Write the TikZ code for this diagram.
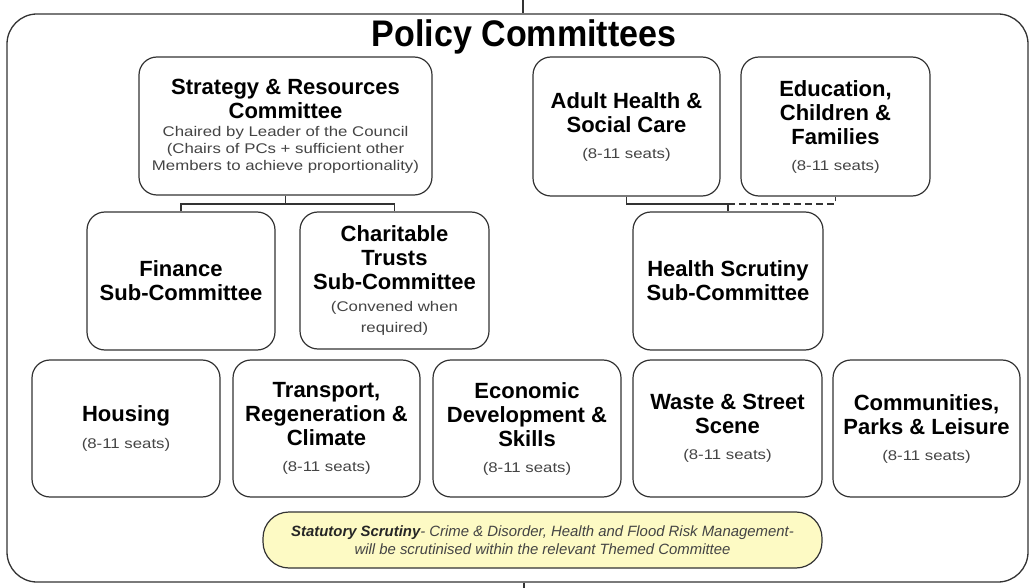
\documentclass[tikz,border=0pt]{standalone}
\usepackage{fontspec}
\setmainfont{Liberation Sans}
\newfontfamily\smallf[FakeStretch=1.2]{Liberation Sans}
\newfontfamily\titlef[FakeStretch=0.92]{Liberation Sans}
\definecolor{txtgray}{HTML}{444444}
\definecolor{linegray}{HTML}{333333}
\definecolor{paleyellow}{HTML}{FDFAC4}
\newcommand\bt{\fontsize{22}{24}\selectfont\bfseries\color{black}}
\newcommand\st{\smallf\fontsize{14}{16}\selectfont\color{txtgray}}
\tikzset{
  cbox/.style={draw=linegray, line width=1.2pt, rounded corners=18pt, align=center,
    inner sep=0pt, font=\fontsize{22}{24}\selectfont},
  wide/.style={minimum width=188pt, minimum height=138pt},
  conn/.style={draw=linegray, line width=1.1pt},
}
\begin{document}
\begin{tikzpicture}[x=1pt,y=-1pt]
\useasboundingbox (0,0) rectangle (1034,588);
\fill[white] (0,0) rectangle (1034,588);
% outer frame
\node[draw=linegray, line width=1.3pt, rounded corners=30pt, minimum width=1021pt,
  minimum height=568pt, inner sep=0pt] (outer) at (517.5,298) {};
\coordinate (topT) at (523,0);
\coordinate (botT) at (524,588);
\draw[conn] (topT) -- (topT |- outer.north);
\draw[conn] (botT |- outer.south) -- (botT);
% title
\node[anchor=base, inner sep=0pt, font=\titlef\fontsize{37}{40}\selectfont\bfseries] (title) at (524,47) {Policy Committees};
% top row
\node[cbox, minimum width=293pt, minimum height=138pt] (sr) at (285.5,126)
  {\bt Strategy \& Resources\\ \bt Committee\\[-6pt]
   \st Chaired by Leader of the Council\\[-7pt]
   \st (Chairs of PCs + sufficient other\\[-7pt]
   \st Members to achieve proportionality)};
\node[cbox, minimum width=187pt, minimum height=139pt] (ah) at (626.5,126.5)
  {\bt Adult Health \&\\ \bt Social Care\\[2pt] \st (8-11 seats)};
\node[cbox, minimum width=189pt, minimum height=139pt] (ed) at (835.5,126.5)
  {\bt Education,\\ \bt Children \&\\ \bt Families\\[2pt] \st (8-11 seats)};
% second row
\node[cbox, wide] (fin) at (181,281) {\bt Finance\\ \bt Sub-Committee};
\node[cbox, minimum width=189pt, minimum height=137pt] (ct) at (394.5,280.5)
  {\bt Charitable\\ \bt Trusts\\ \bt Sub-Committee\\[-2pt] \st (Convened when\\[-3pt] \st required)};
\node[cbox, minimum width=190pt, minimum height=138pt] (hs) at (728,281)
  {\bt Health Scrutiny\\ \bt Sub-Committee};
% third row
\node[cbox, minimum width=188pt, minimum height=137pt] (hou) at (126,428.5)
  {\bt Housing\\[3pt] \st (8-11 seats)};
\node[cbox, minimum width=187pt, minimum height=137pt] (tr) at (326.5,428.5)
  {\bt Transport,\\ \bt Regeneration \&\\ \bt Climate\\[2pt] \st (8-11 seats)};
\node[cbox, minimum width=188pt, minimum height=137pt] (ec) at (527,428.5)
  {\bt Economic\\ \bt Development \&\\ \bt Skills\\[2pt] \st (8-11 seats)};
\node[cbox, minimum width=189pt, minimum height=137pt] (ws) at (727.5,428.5)
  {\bt Waste \& Street\\ \bt Scene\\[2pt] \st (8-11 seats)};
\node[cbox, minimum width=187pt, minimum height=137pt] (com) at (926.5,428.5)
  {\bt Communities,\\ \bt Parks \& Leisure\\[2pt] \st (8-11 seats)};
% statutory scrutiny note
\node[draw=linegray, line width=1.2pt, fill=paleyellow, rounded corners=26pt,
  minimum width=559pt, minimum height=56pt, inner sep=0pt, align=center,
  font=\fontsize{14.9}{18}\selectfont\itshape\color{txtgray}] (note) at (542.5,540)
  {{\bfseries\color{black!85}Statutory Scrutiny}- Crime \& Disorder, Health and Flood Risk Management-\\
   will be scrutinised within the relevant Themed Committee};
% connectors
\coordinate (srj) at (sr.south |- 0,204);
\draw[conn] (sr.south) -- (srj);
\draw[conn] (fin.north) -- (fin.north |- srj) -- (ct.north |- srj) -- (ct.north);
\coordinate (hsj) at (hs.north |- 0,204);
\draw[conn] (ah.south) -- (ah.south |- hsj) -- (hsj) -- (hs.north);
\draw[conn, dashed, dash pattern=on 7pt off 4pt] (hsj) -- (ed.south |- hsj) -- (ed.south);
\end{tikzpicture}
\end{document}
